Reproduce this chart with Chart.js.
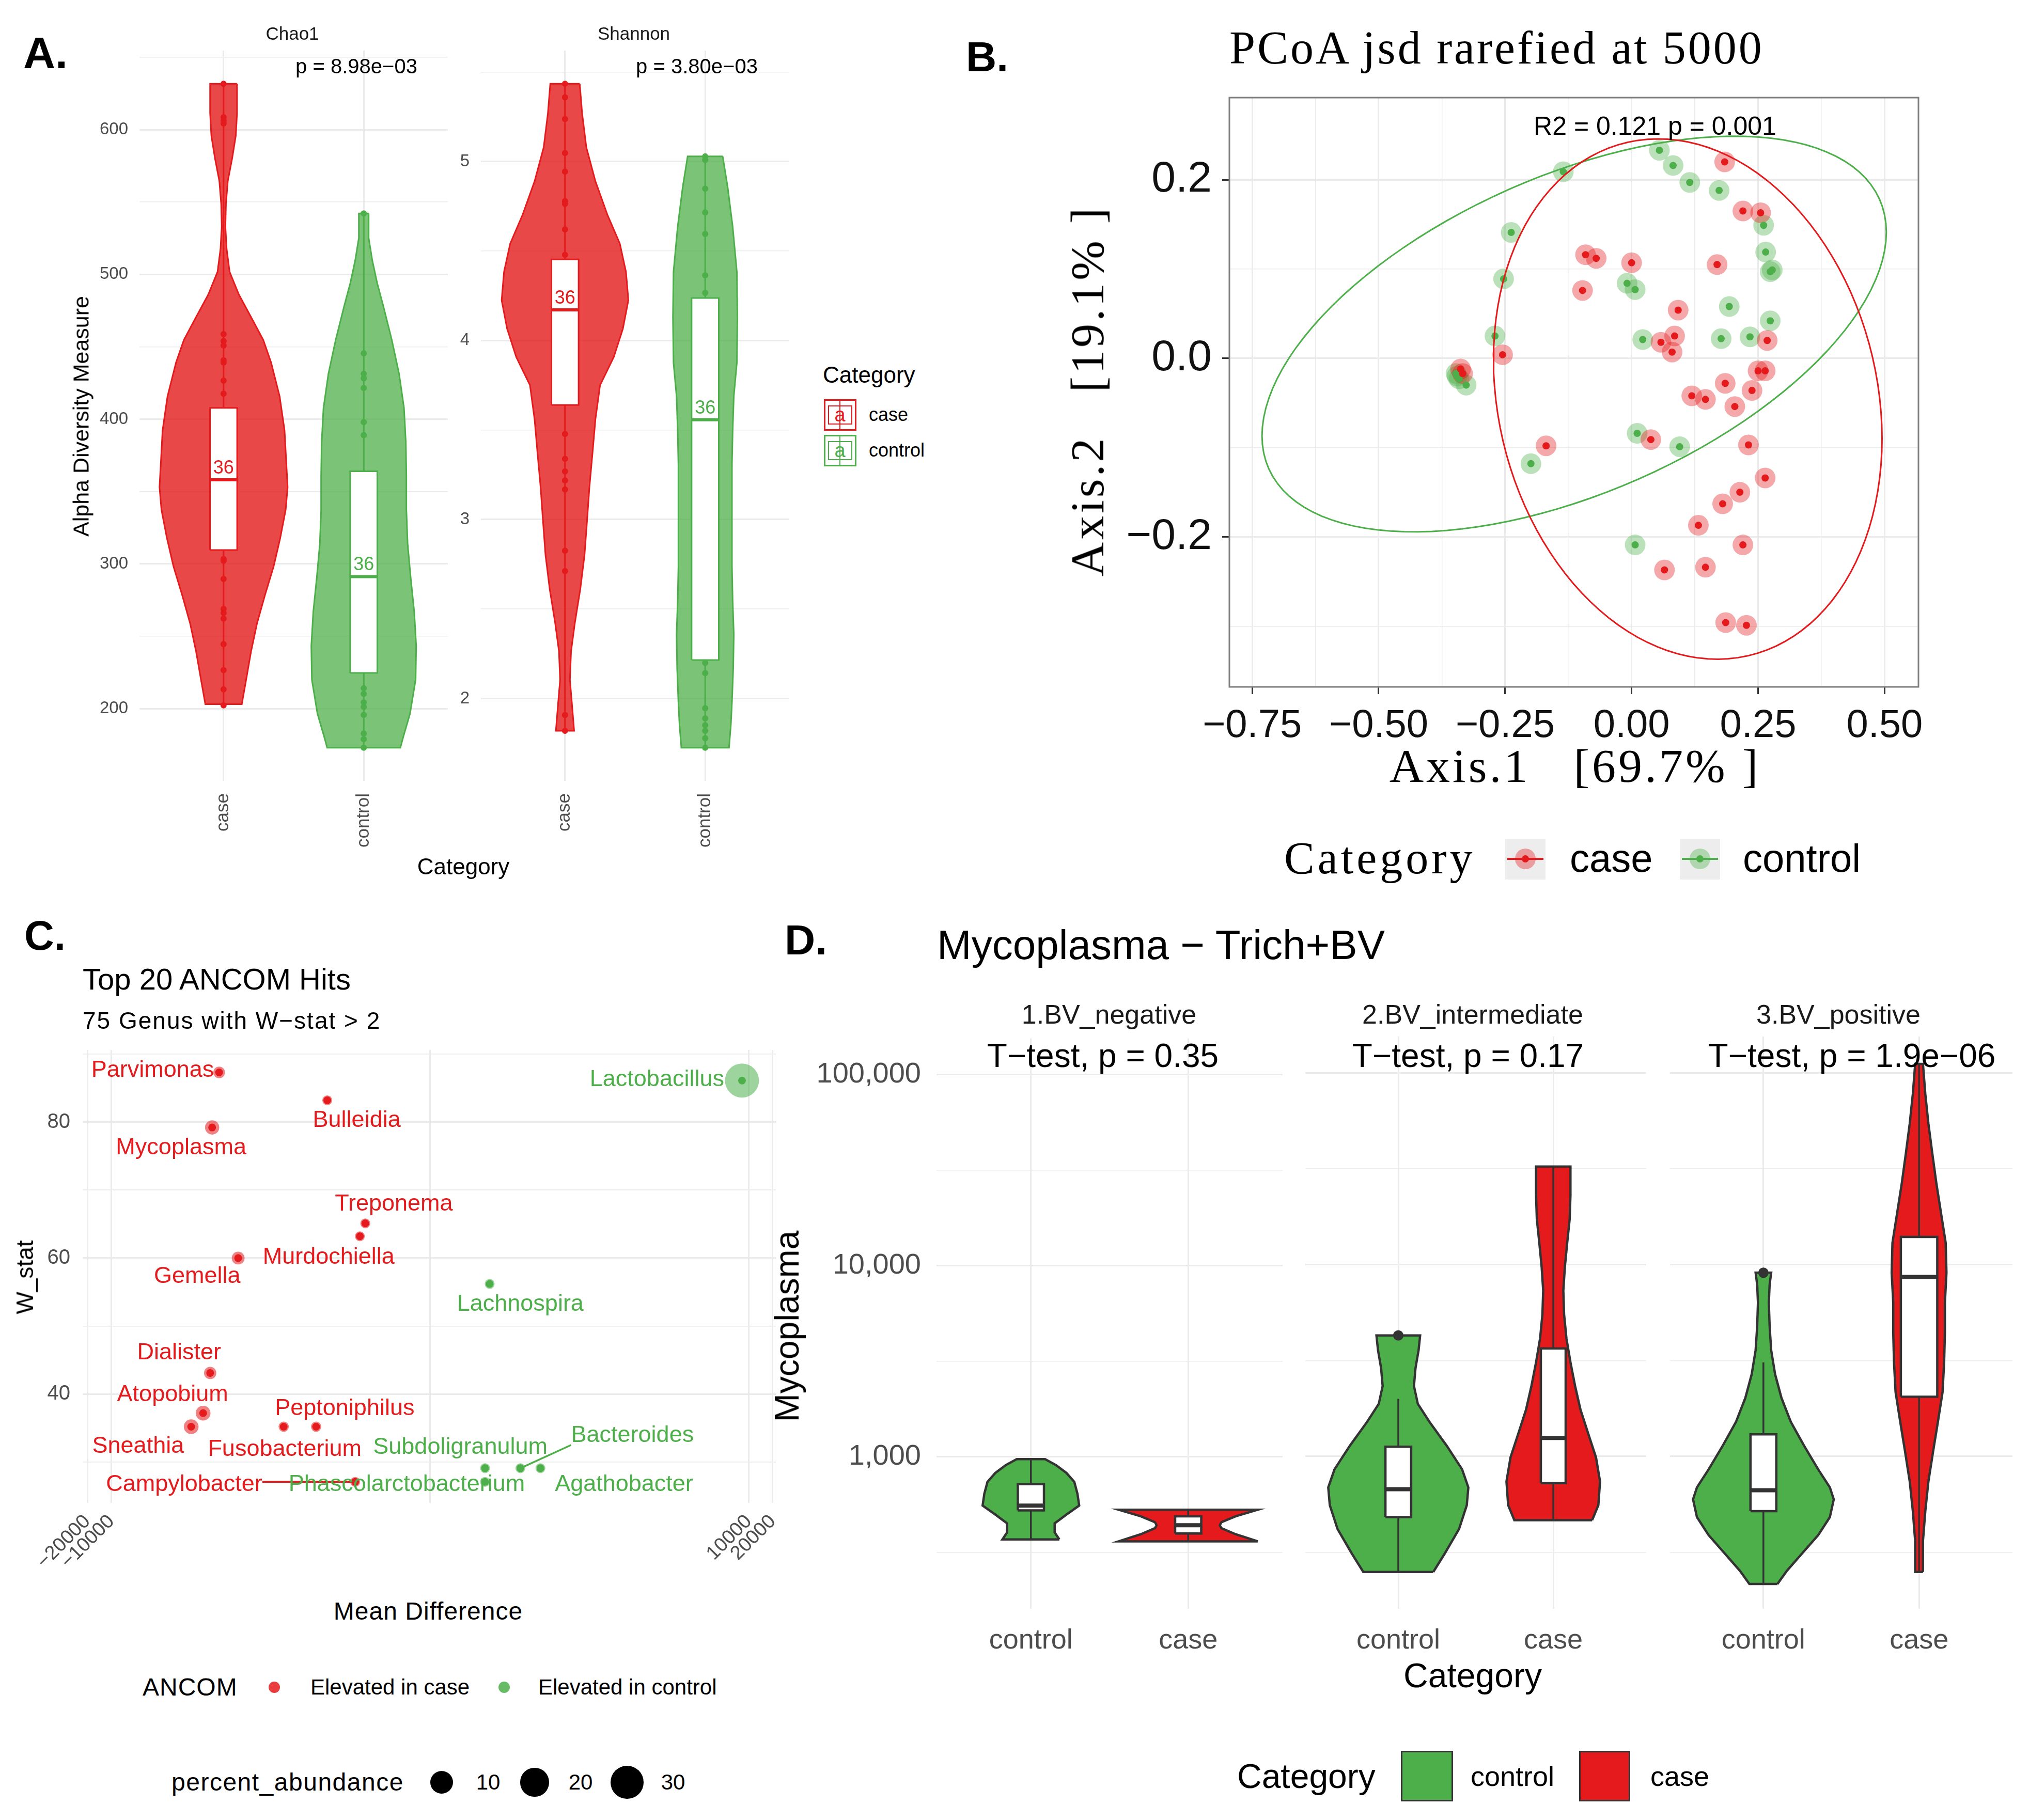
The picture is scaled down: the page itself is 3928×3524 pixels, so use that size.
<!DOCTYPE html>
<html>
<head>
<meta charset="utf-8">
<title>Microbiome figure</title>
<script src="https://cdn.jsdelivr.net/npm/chart.js@4.4.1/dist/chart.umd.min.js"></script>
<style>
  html, body { margin: 0; padding: 0; background: #fff; }
  body { position: relative; width: 3928px; height: 3524px; overflow: hidden;
         font-family: "Liberation Sans", Arial, sans-serif; color: #000; }
  canvas { position: absolute; }
  .t { position: absolute; white-space: pre; line-height: 1; }
  .k { position: absolute; box-sizing: border-box; }
</style>
</head>
<body>
<script>
// ---------- A: alpha diversity ----------
const alphaGroups = ['case', 'control'];
const alphaCounts = [36, 36];
const alphaPValues = ['p = 8.98e\u221203', 'p = 3.80e\u221203'];

// violin outlines, [value, half width in category units], top to bottom
const chao1CaseViolin = [[631.7,0.096],[611.4,0.096],[595.7,0.087],[580.0,0.061],[564.4,0.030],[548.7,0.017],[533.1,0.013],[517.4,0.022],[501.8,0.043],[486.1,0.109],[470.5,0.196],[454.8,0.283],[439.1,0.339],[415.7,0.400],[392.2,0.435],[368.7,0.448],[353.0,0.457],[337.4,0.443],[317.8,0.404],[298.2,0.357],[278.7,0.296],[259.1,0.239],[239.5,0.196],[220.0,0.161],[203.1,0.130]];
const chao1ControlViolin = [[542.1,0.035],[525.2,0.035],[509.6,0.061],[493.9,0.096],[478.3,0.139],[454.8,0.200],[431.3,0.252],[407.8,0.287],[384.3,0.300],[360.9,0.304],[337.4,0.304],[313.9,0.313],[290.4,0.335],[266.9,0.360],[243.4,0.374],[220.0,0.370],[196.5,0.330],[180.8,0.283],[173.0,0.261]];
const shannonCaseViolin = [[5.434,0.105],[5.269,0.122],[5.079,0.152],[4.889,0.217],[4.699,0.304],[4.541,0.391],[4.383,0.435],[4.225,0.452],[4.066,0.413],[3.908,0.348],[3.750,0.250],[3.560,0.217],[3.370,0.196],[3.180,0.174],[2.991,0.157],[2.801,0.139],[2.611,0.109],[2.421,0.070],[2.263,0.043],[2.104,0.035],[1.946,0.052],[1.820,0.065]];
const shannonControlViolin = [[5.028,0.125],[4.858,0.160],[4.636,0.196],[4.383,0.226],[4.130,0.230],[3.877,0.226],[3.687,0.204],[3.497,0.196],[3.307,0.191],[3.117,0.191],[2.927,0.191],[2.737,0.191],[2.547,0.196],[2.358,0.204],[2.168,0.200],[1.978,0.191],[1.851,0.183],[1.725,0.170]];

const chao1CasePoints = [631.7,608.6,606.3,604.3,458.7,454.0,450.9,440.7,439.1,426.6,417.6,303.3,302.2,289.6,268.9,266.1,262.2,244.6,226.6,213.3,202.3];
const chao1ControlPoints = [542.1,445.4,431.3,428.2,421.5,398.0,389.0,214.1,210.2,204.3,201.2,195.7,182.8,178.9,173.0];
const shannonCasePoints = [5.434,5.358,5.237,5.047,4.943,4.778,4.763,4.620,4.478,3.478,3.339,3.269,3.218,3.168,2.826,2.712,1.908,1.820];
const shannonControlPoints = [5.028,5.009,4.848,4.715,4.595,4.364,4.266,2.199,2.142,1.946,1.889,1.851,1.820,1.778,1.725];

// q1, median, q3
const chao1CaseBox = [309.6, 358.1, 407.8];
const chao1ControlBox = [224.7, 291.2, 364.0];
const shannonCaseBox = [3.639, 4.171, 4.453];
const shannonControlBox = [2.215, 3.557, 4.237];

// ---------- B: PCoA ----------
const pcoaCase = [[0.184,0.220],[0.220,0.165],[0.255,0.163],[-0.091,0.116],[-0.070,0.112],[0.000,0.107],[0.169,0.105],[-0.097,0.076],[0.092,0.054],[0.085,0.025],[0.058,0.018],[0.080,0.007],[0.268,0.020],[-0.255,0.004],[0.250,-0.014],[0.264,-0.014],[-0.334,-0.017],[-0.338,-0.012],[0.185,-0.028],[0.238,-0.036],[0.119,-0.042],[0.146,-0.046],[0.204,-0.054],[0.038,-0.091],[-0.169,-0.098],[0.231,-0.097],[0.264,-0.134],[0.214,-0.150],[0.180,-0.163],[0.132,-0.187],[0.220,-0.209],[0.065,-0.237],[0.146,-0.234],[0.186,-0.296],[0.227,-0.299]];
const pcoaControl = [[0.055,0.233],[0.082,0.216],[0.115,0.197],[-0.135,0.209],[0.173,0.188],[0.261,0.149],[-0.238,0.141],[0.265,0.119],[0.274,0.097],[0.278,0.099],[-0.253,0.089],[-0.009,0.084],[0.007,0.077],[0.193,0.058],[0.274,0.042],[-0.270,0.025],[0.022,0.021],[0.177,0.022],[0.234,0.024],[-0.347,-0.017],[-0.341,-0.023],[-0.327,-0.030],[-0.345,-0.020],[0.011,-0.084],[0.095,-0.099],[-0.199,-0.118],[0.007,-0.209]];
// 95% ellipses: centre x, centre y, then two conjugate semi-axes (x, y)
const caseEllipse = [0.111, -0.0456, 0.384, -0.0443, 0, 0.288];
const controlEllipse = [-0.1135, 0.0272, 0.617, 0.114, 0, 0.190];
const pcoaXTicks = [-0.75, -0.5, -0.25, 0, 0.25, 0.5];
const pcoaXGrid = [-0.75, -0.625, -0.5, -0.375, -0.25, -0.125, 0, 0.125, 0.25, 0.375, 0.5];
const pcoaYTicks = [-0.2, 0, 0.2];
const pcoaYGrid = [-0.3, -0.2, -0.1, 0, 0.1, 0.2];

// ---------- C: ANCOM ----------
const ancomGenus = ['Parvimonas','Bulleidia','Mycoplasma','Treponema','Murdochiella','Gemella','Dialister','Atopobium','Sneathia','Fusobacterium','Peptoniphilus','Campylobacter','Lactobacillus','Lachnospira','Subdoligranulum','Phascolarctobacterium','Bacteroides','Agathobacter'];
const ancomMeanDiff = [-443,-18.5,-542,-5.5,-6.6,-255,-574,-704,-994,-67.7,-25.9,-7.7,8221,4.6,3.9,3.9,12.6,23.3];
const ancomW = [87.3,83.2,79.2,65.1,63.2,60.0,43.1,37.2,35.2,35.2,35.2,27.1,86.1,56.2,29.1,27.1,29.1,29.1];
const ancomPercent = [0.4,0.05,1.5,0.05,0.05,0.8,0.6,1.8,1.8,0.1,0.1,0.05,33,0.05,0.05,0.05,0.05,0.05];
const ancomGroup = ['case','case','case','case','case','case','case','case','case','case','case','case','control','control','control','control','control','control'];
// repelled label spots on the plotted (signed log) x axis and W axis
const ancomLabelPos = [[-3.482,87.60],[-0.920,80.26],[-3.124,76.20],[-0.455,67.90],[-1.272,60.13],[-2.923,57.28],[-3.149,46.05],[-3.231,39.91],[-3.664,32.31],[-1.824,31.88],[-1.071,37.84],[-3.086,26.70],[2.848,86.22],[1.133,53.22],[0.380,32.14],[-0.292,26.70],[2.540,33.87],[2.434,26.70]];
const ancomTicks = [-20000, -10000, 0, 10000, 20000];
const ancomYGrid = [30, 40, 50, 60, 70, 80, 90];
const ancomSizeBreaks = [10, 20, 30];

// ---------- D: Mycoplasma by BV status (log10 counts) ----------
const bvFacets = ['1.BV_negative', '2.BV_intermediate', '3.BV_positive'];
const bvTests = ['T\u2212test, p = 0.35', 'T\u2212test, p = 0.17', 'T\u2212test, p = 1.9e\u221206'];
const bvGroups = ['control', 'case'];
const bvNegControl = [[2.568,0.181],[2.605,0.151],[2.652,0.151],[2.698,0.226],[2.745,0.307],[2.807,0.296],[2.869,0.276],[2.916,0.226],[2.956,0.161],[2.988,0.090]];
const bvNegCase = [[2.558,0.442],[2.595,0.302],[2.627,0.211],[2.642,0.201],[2.658,0.211],[2.689,0.302],[2.723,0.442]];
const bvIntControl = [[2.397,0.226],[2.496,0.302],[2.621,0.392],[2.745,0.442],[2.838,0.452],[2.932,0.412],[3.056,0.312],[3.180,0.201],[3.274,0.126],[3.367,0.101],[3.460,0.111],[3.554,0.131],[3.631,0.141]];
const bvIntCase = [[2.667,0.251],[2.745,0.291],[2.869,0.302],[2.994,0.276],[3.118,0.226],[3.243,0.176],[3.367,0.141],[3.491,0.111],[3.616,0.085],[3.740,0.070],[3.865,0.065],[3.989,0.075],[4.114,0.090],[4.238,0.106],[4.362,0.111],[4.512,0.111]];
const bvPosControl = [[2.334,0.090],[2.403,0.151],[2.496,0.251],[2.589,0.352],[2.683,0.427],[2.776,0.452],[2.838,0.427],[2.932,0.352],[3.056,0.261],[3.180,0.176],[3.305,0.116],[3.429,0.075],[3.554,0.050],[3.678,0.040],[3.802,0.035],[3.896,0.040],[3.958,0.050]];
const bvPosCase = [[2.397,0.025],[2.558,0.025],[2.714,0.040],[2.869,0.060],[3.025,0.090],[3.180,0.121],[3.336,0.151],[3.491,0.161],[3.647,0.166],[3.802,0.166],[3.958,0.176],[4.114,0.171],[4.269,0.141],[4.425,0.111],[4.580,0.085],[4.736,0.060],[4.891,0.040],[5.047,0.025]];
// lower whisker, q1, median, q3, upper whisker
const bvNegControlBox = [2.568, 2.720, 2.745, 2.857, 2.988];
const bvNegCaseBox = [2.558, 2.599, 2.642, 2.689, 2.723];
const bvIntControlBox = [2.397, 2.683, 2.829, 3.050, 3.300];
const bvIntCaseBox = [2.667, 2.860, 3.096, 3.563, 4.512];
const bvPosControlBox = [2.334, 2.714, 2.823, 3.115, 3.490];
const bvPosCaseBox = [2.397, 3.311, 3.936, 4.145, 5.047];
const bvIntControlOutliers = [3.631];
const bvPosControlOutliers = [3.958];
const bvYGrid = [2.5, 3, 3.5, 4, 4.5, 5];

// ---------- helpers ----------
Chart.defaults.font.family = '"Liberation Sans", Arial, sans-serif';
const RED = '#E41A1C', GREEN = '#4DAF4A', GRID = '#EBEBEB', INK = '#4D4D4D', DARK = '#333333';
const FONT = '"Liberation Sans", Arial, sans-serif';
const SERIF = '"Liberation Serif", "DejaVu Serif", serif';

function txt(s, x, y, size, o = {}) {
  const d = document.createElement('div');
  d.className = 't';
  d.textContent = s;
  d.style.left = x + 'px';
  d.style.top = y + 'px';
  d.style.fontSize = size + 'px';
  if (o.color) d.style.color = o.color;
  if (o.bold) d.style.fontWeight = 'bold';
  if (o.serif) d.style.fontFamily = SERIF;
  if (o.ls) d.style.letterSpacing = o.ls + 'px';
  d.style.transform = `translate(${o.left ? '0' : '-50%'},-50%)` + (o.rot ? ` rotate(${o.rot}deg)` : '');
  document.body.appendChild(d);
}

function blk(x, y, w, h, css) {
  const d = document.createElement('div');
  d.className = 'k';
  Object.assign(d.style, {left: x + 'px', top: y + 'px', width: w + 'px', height: h + 'px'}, css);
  document.body.appendChild(d);
  return d;
}

// canvas whose chart area lands on area = [left, top, right, bottom]
function place(area, yw, xh, padTop, padRight) {
  const c = document.createElement('canvas');
  const left = area[0] - yw, top = area[1] - padTop;
  const w = area[2] - left + padRight, h = area[3] + xh - top;
  c.width = w; c.height = h;
  Object.assign(c.style, {left: left + 'px', top: top + 'px', width: w + 'px', height: h + 'px'});
  document.body.appendChild(c);
  return c;
}

function violinPath(center, levels) {
  const right = levels.map(([v, w]) => ({x: center + w, y: v}));
  const left = levels.slice().reverse().map(([v, w]) => ({x: center - w, y: v}));
  return right.concat(left, [right[0]]);
}

function rectPath(c, half, lo, hi) {
  return [{x: c - half, y: lo}, {x: c + half, y: lo}, {x: c + half, y: hi}, {x: c - half, y: hi}, {x: c - half, y: lo}];
}

function ellipsePath(e) {
  const pts = [];
  for (let k = 0; k <= 120; k++) {
    const t = k / 120 * 2 * Math.PI;
    pts.push({x: e[0] + e[2] * Math.cos(t) + e[4] * Math.sin(t), y: e[1] + e[3] * Math.cos(t) + e[5] * Math.sin(t)});
  }
  return pts;
}

function shape(data, fill, line, width, order) {
  return {data, showLine: true, fill: fill ? 'shape' : false, backgroundColor: fill || 'transparent',
          borderColor: line, borderWidth: width, pointRadius: 0, tension: 0, order};
}

function dots(data, color, radius, order) {
  return {data, showLine: false, pointRadius: radius, pointBackgroundColor: color, pointBorderWidth: 0, order};
}

// text at data coordinates, with an optional leader line to a point
function notesPlugin(items) {
  return {
    id: 'notes',
    afterDatasetsDraw(chart) {
      const {ctx, scales} = chart;
      items.forEach(it => {
        const x = scales.x.getPixelForValue(it.x), y = scales.y.getPixelForValue(it.y) + (it.dy || 0);
        ctx.save();
        ctx.font = `${it.size}px ${FONT}`;
        ctx.fillStyle = it.color;
        ctx.strokeStyle = it.color;
        ctx.textAlign = 'center';
        ctx.textBaseline = it.baseline || 'middle';
        if (it.px !== undefined) {
          const w = ctx.measureText(it.text).width, h = it.size * 0.8;
          const px = scales.x.getPixelForValue(it.px), py = scales.y.getPixelForValue(it.py);
          const nx = Math.max(x - w / 2, Math.min(px, x + w / 2));
          const ny = Math.max(y - h / 2, Math.min(py, y + h / 2));
          if (Math.hypot(px - nx, py - ny) - it.r > 32) {
            ctx.lineWidth = 3.5;
            ctx.beginPath(); ctx.moveTo(px, py); ctx.lineTo(nx, ny); ctx.stroke();
          }
        }
        ctx.fillText(it.text, x, y);
        ctx.restore();
      });
    }
  };
}

const framePlugin = {
  id: 'frame',
  afterDraw(chart) {
    const {ctx, chartArea: a} = chart;
    ctx.save();
    ctx.strokeStyle = '#7F7F7F';
    ctx.lineWidth = 3;
    ctx.strokeRect(a.left, a.top, a.right - a.left, a.bottom - a.top);
    ctx.restore();
  }
};

function baseOptions(padTop, padRight) {
  return {
    responsive: false, animation: false, devicePixelRatio: 1, events: [],
    layout: {padding: {top: padTop, right: padRight, left: 0, bottom: 0}},
    plugins: {legend: {display: false}, tooltip: {enabled: false}}
  };
}

// ---------- panel A ----------
function alphaFacet(f) {
  const canvas = place(f.area, f.yw, 190, 98, 12);
  const fills = ['rgba(228,26,28,0.8)', 'rgba(77,175,74,0.75)'];
  const lines = [RED, GREEN];
  const datasets = [], notes = [];
  f.violins.forEach((levels, i) => {
    const c = i + 1, pts = f.points[i], [q1, med, q3] = f.boxes[i];
    datasets.push(shape(violinPath(c, levels), fills[i], lines[i], 3, 10));
    datasets.push(shape([{x: c, y: Math.min(...pts)}, {x: c, y: Math.max(...pts)}], null, lines[i], 3, 9));
    datasets.push(dots(pts.map(v => ({x: c, y: v})), lines[i], 6, 8));
    datasets.push(shape(rectPath(c, 0.097, q1, q3), '#FFFFFF', lines[i], 3, 7));
    datasets.push(shape([{x: c - 0.097, y: med}, {x: c + 0.097, y: med}], null, lines[i], 6, 6));
    notes.push({x: c, y: med, dy: -4, text: String(alphaCounts[i]), color: lines[i], size: 36, baseline: 'bottom'});
  });
  const opts = baseOptions(98, 12);
  opts.scales = {
    x: {type: 'linear', min: 0.4, max: 2.6,
        afterBuildTicks: s => { s.ticks = [{value: 1}, {value: 2}]; },
        afterFit: s => { s.height = 190; },
        grid: {color: GRID, lineWidth: 3, drawTicks: false}, border: {display: false},
        ticks: {callback: v => alphaGroups[v - 1], minRotation: 90, maxRotation: 90, padding: 24,
                autoSkip: false, color: INK, font: {size: 35}}},
    y: {type: 'linear', min: f.min, max: f.max,
        afterBuildTicks: s => { s.ticks = f.grid.map(v => ({value: v})); },
        afterFit: s => { s.width = f.yw; },
        grid: {color: GRID, lineWidth: c => f.major(c.tick.value) ? 3 : 1.5, drawTicks: false}, border: {display: false},
        ticks: {callback: v => f.major(v) ? String(v) : '', padding: 22, autoSkip: false, color: INK, font: {size: 33}}}
  };
  new Chart(canvas, {type: 'scatter', data: {datasets}, options: opts, plugins: [notesPlugin(notes)]});
}

alphaFacet({
  area: [270, 98, 867, 1512], yw: 150, min: 150.1, max: 654.6,
  grid: [200, 250, 300, 350, 400, 450, 500, 550, 600, 650], major: v => v % 100 === 0,
  violins: [chao1CaseViolin, chao1ControlViolin], points: [chao1CasePoints, chao1ControlPoints],
  boxes: [chao1CaseBox, chao1ControlBox]
});
alphaFacet({
  area: [931, 98, 1528, 1512], yw: 80, min: 1.54, max: 5.619,
  grid: [2, 2.5, 3, 3.5, 4, 4.5, 5, 5.5], major: v => Number.isInteger(v),
  violins: [shannonCaseViolin, shannonControlViolin], points: [shannonCasePoints, shannonControlPoints],
  boxes: [shannonCaseBox, shannonControlBox]
});

txt('A.', 45, 102, 86, {left: true, bold: true});
txt('Chao1', 566, 64, 35, {color: '#1A1A1A'});
txt('Shannon', 1227, 64, 35, {color: '#1A1A1A'});
txt(alphaPValues[0], 690, 128, 40);
txt(alphaPValues[1], 1349, 128, 40);
txt('Alpha Diversity Measure', 157, 806, 43, {rot: -90});
txt('Category', 897, 1678, 44);
txt('Category', 1593, 726, 44, {left: true});
[[RED, 773, 'case', 803], [GREEN, 842, 'control', 872]].forEach(([col, top, lab, ty]) => {
  blk(1595, top, 63, 61, {border: `3px solid ${col}`, background: '#fff'});
  blk(1603, top + 12, 47, 37, {border: `2px solid ${col}`});
  blk(1625, top + 3, 2, 55, {background: col});
  txt('a', 1626, top + 30, 38, {color: col});
  txt(lab, 1682, ty, 36, {left: true});
});

// ---------- panel B ----------
(function () {
  const canvas = place([2380, 189, 3714, 1330], 230, 150, 80, 120);
  const caseXY = pcoaCase.map(([x, y]) => ({x, y}));
  const ctrlXY = pcoaControl.map(([x, y]) => ({x, y}));
  const datasets = [
    dots(ctrlXY, 'rgba(77,175,74,0.38)', 20, 9),
    dots(caseXY, 'rgba(228,26,28,0.38)', 20, 8),
    dots(ctrlXY, GREEN, 7, 7),
    dots(caseXY, RED, 7, 6),
    shape(ellipsePath(controlEllipse), null, GREEN, 3, 2),
    shape(ellipsePath(caseEllipse), null, RED, 3, 1)
  ];
  const fmt = (v, d) => (v < 0 ? '\u2212' : '') + Math.abs(v).toFixed(d);
  const isMajor = (arr, v) => arr.some(t => Math.abs(t - v) < 1e-9);
  const opts = baseOptions(80, 120);
  opts.scales = {
    x: {type: 'linear', min: -0.795, max: 0.567,
        afterBuildTicks: s => { s.ticks = pcoaXGrid.map(v => ({value: v})); },
        afterFit: s => { s.height = 150; },
        grid: {color: GRID, lineWidth: c => isMajor(pcoaXTicks, c.tick.value) ? 3 : 1.5,
               tickColor: c => isMajor(pcoaXTicks, c.tick.value) ? DARK : 'rgba(0,0,0,0)', tickLength: 14, tickWidth: 3},
        border: {display: false},
        ticks: {callback: v => isMajor(pcoaXTicks, v) ? fmt(v, 2) : '', padding: 16, autoSkip: false,
                maxRotation: 0, color: '#111', font: {size: 76}}},
    y: {type: 'linear', min: -0.368, max: 0.292,
        afterBuildTicks: s => { s.ticks = pcoaYGrid.map(v => ({value: v})); },
        afterFit: s => { s.width = 230; },
        grid: {color: GRID, lineWidth: c => isMajor(pcoaYTicks, c.tick.value) ? 3 : 1.5,
               tickColor: c => isMajor(pcoaYTicks, c.tick.value) ? DARK : 'rgba(0,0,0,0)', tickLength: 14, tickWidth: 3},
        border: {display: false},
        ticks: {callback: v => isMajor(pcoaYTicks, v) ? fmt(v, 1) : '', padding: 20, autoSkip: false, color: '#111', font: {size: 84}}}
  };
  new Chart(canvas, {type: 'scatter', data: {datasets}, options: opts, plugins: [framePlugin]});
})();

txt('B.', 1870, 110, 82, {left: true, bold: true});
txt('PCoA jsd rarefied at 5000', 2380, 93, 90, {left: true, serif: true, ls: 4});
txt('R2 = 0.121 p = 0.001', 3204, 244, 50);
txt('Axis.2   [19.1% ]', 2105, 757, 92, {serif: true, rot: -90, ls: 5});
txt('Axis.1   [69.7% ]', 3049, 1483, 92, {serif: true, ls: 5});
txt('Category', 2486, 1662, 88, {left: true, serif: true, ls: 6});
[[2914, RED, 'rgba(228,26,28,0.38)', 'case', 3039], [3252, GREEN, 'rgba(77,175,74,0.38)', 'control', 3374]].forEach(([kx, col, halo, lab, tx]) => {
  blk(kx, 1624, 78, 79, {background: '#EDEDED'});
  blk(kx + 4, 1661, 70, 4, {background: col});
  blk(kx + 19, 1643, 40, 40, {background: halo, borderRadius: '50%'});
  blk(kx + 32, 1656, 14, 14, {background: col, borderRadius: '50%'});
  txt(lab, tx, 1662, 76, {left: true});
});

// ---------- panel C ----------
const slog = v => Math.sign(v) * Math.log10(1 + Math.abs(v));
const sizeOf = p => 8.6 + 24.3 * Math.sqrt(p / 33);
(function () {
  const canvas = place([160, 2033, 1502, 2910], 130, 170, 60, 60);
  const pts = ancomGenus.map((g, i) => ({x: slog(ancomMeanDiff[i]), y: ancomW[i]}));
  const colorOf = (i, a) => ancomGroup[i] === 'case' ? `rgba(228,26,28,${a})` : `rgba(77,175,74,${a})`;
  const datasets = [
    {data: pts, showLine: false, order: 3, pointBorderWidth: 0,
     pointRadius: c => sizeOf(ancomPercent[c.dataIndex]), pointBackgroundColor: c => colorOf(c.dataIndex, 0.55)},
    {data: pts, showLine: false, order: 2, pointBorderWidth: 0,
     pointRadius: 7.5, pointBackgroundColor: c => colorOf(c.dataIndex, 1)}
  ];
  const notes = ancomGenus.map((g, i) => ({
    x: ancomLabelPos[i][0], y: ancomLabelPos[i][1], text: g, size: 45,
    color: ancomGroup[i] === 'case' ? RED : GREEN,
    px: pts[i].x, py: pts[i].y, r: sizeOf(ancomPercent[i])
  }));
  const opts = baseOptions(60, 60);
  opts.scales = {
    x: {type: 'linear', min: -4.36, max: 4.34,
        afterBuildTicks: s => { s.ticks = ancomTicks.map(v => ({value: slog(v)})); },
        afterFit: s => { s.height = 170; },
        grid: {color: GRID, lineWidth: 3, drawTicks: false}, border: {display: false},
        ticks: {callback: (v, i) => ancomTicks[i] === 0 ? '' : (ancomTicks[i] < 0 ? '\u2212' : '') + Math.abs(ancomTicks[i]),
                minRotation: 45, maxRotation: 45, padding: 14, autoSkip: false, color: INK, font: {size: 38}}},
    y: {type: 'linear', min: 24, max: 90.6,
        afterBuildTicks: s => { s.ticks = ancomYGrid.map(v => ({value: v})); },
        afterFit: s => { s.width = 130; },
        grid: {color: GRID, lineWidth: c => c.tick.value % 20 === 0 ? 3 : 1.8, drawTicks: false}, border: {display: false},
        ticks: {callback: v => v % 20 === 0 ? String(v) : '', padding: 24, autoSkip: false, color: INK, font: {size: 40}}}
  };
  new Chart(canvas, {type: 'scatter', data: {datasets}, options: opts, plugins: [notesPlugin(notes)]});
})();

txt('C.', 47, 1812, 80, {left: true, bold: true});
txt('Top 20 ANCOM Hits', 160, 1896, 58, {left: true});
txt('75 Genus with W\u2212stat > 2', 160, 1976, 46, {left: true, ls: 2});
txt('W_stat', 48, 2473, 46, {rot: -90});
txt('Mean Difference', 829, 3120, 48, {ls: 1});
txt('ANCOM', 276, 3267, 48, {left: true, ls: 1});
blk(520, 3256, 22, 22, {background: 'rgba(228,26,28,0.85)', borderRadius: '50%'});
txt('Elevated in case', 601, 3267, 42, {left: true});
blk(965, 3256, 22, 22, {background: 'rgba(77,175,74,0.85)', borderRadius: '50%'});
txt('Elevated in control', 1042, 3267, 42, {left: true});
txt('percent_abundance', 332, 3451, 48, {left: true, ls: 1.5});
[[855, 945], [1035, 1124], [1214, 1303]].forEach(([cx, lx], i) => {
  const r = sizeOf(ancomSizeBreaks[i]);
  blk(cx - r, 3451 - r, 2 * r, 2 * r, {background: '#000', borderRadius: '50%'});
  txt(String(ancomSizeBreaks[i]), lx, 3451, 42);
});

// ---------- panel D ----------
const bvViolins = [[bvNegControl, bvNegCase], [bvIntControl, bvIntCase], [bvPosControl, bvPosCase]];
const bvBoxes = [[bvNegControlBox, bvNegCaseBox], [bvIntControlBox, bvIntCaseBox], [bvPosControlBox, bvPosCaseBox]];
const bvOutliers = [[[], []], [bvIntControlOutliers, []], [bvPosControlOutliers, []]];
const bvBoxHalf = [[0.083, 0.083], [0.083, 0.08], [0.083, 0.117]];
const bvAreas = [[1813, 2007, 2483, 3115], [2517, 2007, 3187, 3115], [3223, 2007, 3896, 3115]];

bvFacets.forEach((facet, i) => {
  const yw = i === 0 ? 250 : 0;
  const canvas = place(bvAreas[i], yw, 110, 60, 10);
  const fills = [GREEN, RED];
  const datasets = [];
  bvViolins[i].forEach((levels, g) => {
    const c = g + 1, [lo, q1, med, q3, hi] = bvBoxes[i][g], hw = bvBoxHalf[i][g];
    datasets.push(shape(violinPath(c, levels), fills[g], DARK, 4.5, 10));
    datasets.push(shape([{x: c, y: lo}, {x: c, y: hi}], null, DARK, 3.5, 9));
    datasets.push(shape(rectPath(c, hw, q1, q3), '#FFFFFF', DARK, 4.5, 8));
    datasets.push(shape([{x: c - hw, y: med}, {x: c + hw, y: med}], null, DARK, 8, 7));
    datasets.push(dots(bvOutliers[i][g].map(v => ({x: c, y: v})), DARK, 10, 6));
  });
  const opts = baseOptions(60, 10);
  opts.scales = {
    x: {type: 'linear', min: 0.4, max: 2.6,
        afterBuildTicks: s => { s.ticks = [{value: 1}, {value: 2}]; },
        afterFit: s => { s.height = 110; },
        grid: {color: GRID, lineWidth: 3, drawTicks: false}, border: {display: false},
        ticks: {callback: v => bvGroups[v - 1], maxRotation: 0, padding: 30, autoSkip: false, color: INK, font: {size: 54}}},
    y: {type: 'linear', min: 2.205, max: 5.19,
        afterBuildTicks: s => { s.ticks = bvYGrid.map(v => ({value: v})); },
        afterFit: s => { s.width = yw; },
        grid: {color: GRID, lineWidth: c => Number.isInteger(c.tick.value) ? 3 : 1.5, drawTicks: false}, border: {display: false},
        ticks: {display: i === 0, callback: v => Number.isInteger(v) ? (10 ** v).toLocaleString('en-US') : '',
                padding: 30, autoSkip: false, color: INK, font: {size: 56}}}
  };
  new Chart(canvas, {type: 'scatter', data: {datasets}, options: opts});
});

txt('D.', 1519, 1820, 82, {left: true, bold: true});
txt('Mycoplasma \u2212 Trich+BV', 1814, 1830, 80, {left: true});
[[2147, 2135], [2851, 2842], [3559, 3585]].forEach(([sx, tx], i) => {
  txt(bvFacets[i], sx, 1964, 52, {color: '#1A1A1A'});
  txt(bvTests[i], tx, 2044, 64);
});
txt('Mycoplasma', 1523, 2568, 66, {rot: -90});
txt('Category', 2851, 3244, 66);
txt('Category', 2395, 3439, 66, {left: true});
blk(2712, 3390, 101, 98, {background: GREEN, border: `3px solid ${DARK}`});
txt('control', 2847, 3439, 54, {left: true});
blk(3057, 3390, 99, 98, {background: RED, border: `3px solid ${DARK}`});
txt('case', 3195, 3439, 54, {left: true});
</script>
</body>
</html>
